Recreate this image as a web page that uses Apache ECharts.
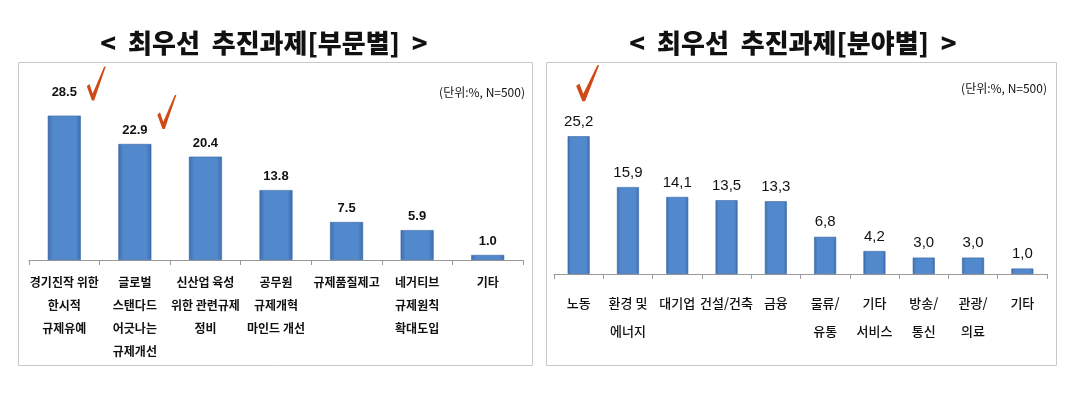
<!DOCTYPE html>
<html>
<head>
<meta charset="utf-8">
<script src="https://cdn.jsdelivr.net/npm/echarts@6/dist/echarts.min.js"></script>
<style>
html,body{margin:0;padding:0;background:#fff;}
#c{width:1086px;height:393px;}
</style>
</head>
<body>
<div id="c"></div>
<script>
// ---- data ----
const leftTitle = '<  최우선  추진과제[부문별]  >';
const rightTitle = '<  최우선  추진과제[분야별]  >';
const unitText = '(단위:%, N=500)';
const leftCategories = ['경기진작 위한\n한시적\n규제유예', '글로벌\n스탠다드\n어긋나는\n규제개선', '신산업 육성\n위한 관련규제\n정비', '공무원\n규제개혁\n마인드 개선', '규제품질제고', '네거티브\n규제원칙\n확대도입', '기타'];
const leftValues = [28.5, 22.9, 20.4, 13.8, 7.5, 5.9, 1.0];
const leftChecked = [0, 1];
const rightCategories = ['노동', '환경 및\n에너지', '대기업', '건설/건축', '금융', '물류/\n유통', '기타\n서비스', '방송/\n통신', '관광/\n의료', '기타'];
const rightValues = [25.2, 15.9, 14.1, 13.5, 13.3, 6.8, 4.2, 3.0, 3.0, 1.0];
const rightChecked = [0];

// ---- styles ----
const barGrad = new echarts.graphic.LinearGradient(0, 0, 1, 0, [
  {offset: 0, color: '#3b6cad'},
  {offset: 0.15, color: '#5189cc'},
  {offset: 0.85, color: '#5189cc'},
  {offset: 1, color: '#3b6cad'}
]);
const checkPath = 'path://M0,58 L14,51 L31,79 L92,0 L100,0 L39,100 L27,100 Z';
const checkColor = '#cf4a17';
const narrow = "'Liberation Sans Narrow','Liberation Sans',Arial,sans-serif";
const kr = "'Noto Sans CJK KR','Noto Sans',sans-serif";

const chart = echarts.init(document.getElementById('c'), null, {renderer: 'canvas'});

function axisX(gridIndex, cats, fontSize, weight, margin, lineHeight) {
  return {
    type: 'category', gridIndex: gridIndex, data: cats,
    axisLine: {show: true, lineStyle: {color: '#9a9a9a', width: 1}},
    axisTick: {show: true, length: 5, lineStyle: {color: '#9a9a9a'}},
    axisLabel: {interval: 0, color: '#111', fontFamily: kr, fontSize: fontSize,
      fontWeight: weight, margin: margin, lineHeight: lineHeight}
  };
}
function axisY(gridIndex) {
  return {type: 'value', gridIndex: gridIndex, min: 0, max: 30, show: false, splitLine: {show: false}};
}

const option = {
  animation: false,
  backgroundColor: '#fff',
  grid: [
    {left: 29, right: 563, top: 108, bottom: 133},
    {left: 554, right: 39, top: 110, bottom: 119}
  ],
  xAxis: [
    axisX(0, leftCategories, 12, 'bold', 11, 23),
    axisX(1, rightCategories, 13, 500, 15, 28)
  ],
  yAxis: [axisY(0), axisY(1)],
  graphic: [
    {type: 'rect', shape: {x: 18.5, y: 62.5, width: 514, height: 303}, style: {fill: 'none', stroke: '#c8c8c8', lineWidth: 1}, silent: true},
    {type: 'rect', shape: {x: 546.5, y: 62.5, width: 510, height: 303}, style: {fill: 'none', stroke: '#c8c8c8', lineWidth: 1}, silent: true},
    {type: 'text', x: 264, y: 43, style: {text: leftTitle, fill: '#111', font: "900 26px 'Noto Sans CJK KR', sans-serif", textAlign: 'center', textVerticalAlign: 'middle'}},
    {type: 'text', x: 793, y: 43, style: {text: rightTitle, fill: '#111', font: "900 26px 'Noto Sans CJK KR', sans-serif", textAlign: 'center', textVerticalAlign: 'middle'}},
    {type: 'text', x: 525, y: 92, style: {text: unitText, fill: '#111', font: "12px 'Liberation Sans Narrow','Noto Sans CJK KR', sans-serif", textAlign: 'right', textVerticalAlign: 'middle'}},
    {type: 'text', x: 1047, y: 88, style: {text: unitText, fill: '#111', font: "12px 'Liberation Sans Narrow','Noto Sans CJK KR', sans-serif", textAlign: 'right', textVerticalAlign: 'middle'}}
  ],
  series: [
    {
      type: 'bar', xAxisIndex: 0, yAxisIndex: 0, barWidth: 33,
      data: leftValues.map((v, i) => i === 0 ? {value: v, label: {distance: 17}} : v),
      itemStyle: {color: barGrad, borderColor: '#3a67a3', borderWidth: 0.6},
      label: {show: true, position: 'top', distance: 7, color: '#111', fontFamily: narrow, fontWeight: 'bold', fontSize: 13,
        formatter: p => p.value.toFixed(1)},
      markPoint: {
        symbol: checkPath, symbolSize: [19, 34], symbolOffset: [32, -32], silent: true,
        itemStyle: {color: checkColor}, label: {show: false},
        data: leftChecked.map(i => ({coord: [i, leftValues[i]]}))
      }
    },
    {
      type: 'bar', xAxisIndex: 1, yAxisIndex: 1, barWidth: 22,
      data: rightValues,
      itemStyle: {color: barGrad, borderColor: '#3a67a3', borderWidth: 0.6},
      label: {show: true, position: 'top', distance: 7, color: '#111', fontFamily: narrow, fontSize: 15,
        formatter: p => p.value.toFixed(1).replace('.', ',')},
      markPoint: {
        symbol: checkPath, symbolSize: [23, 36], symbolOffset: [9, -53], silent: true,
        itemStyle: {color: checkColor}, label: {show: false},
        data: rightChecked.map(i => ({coord: [i, rightValues[i]]}))
      }
    }
  ]
};
chart.setOption(option);
</script>
</body>
</html>
